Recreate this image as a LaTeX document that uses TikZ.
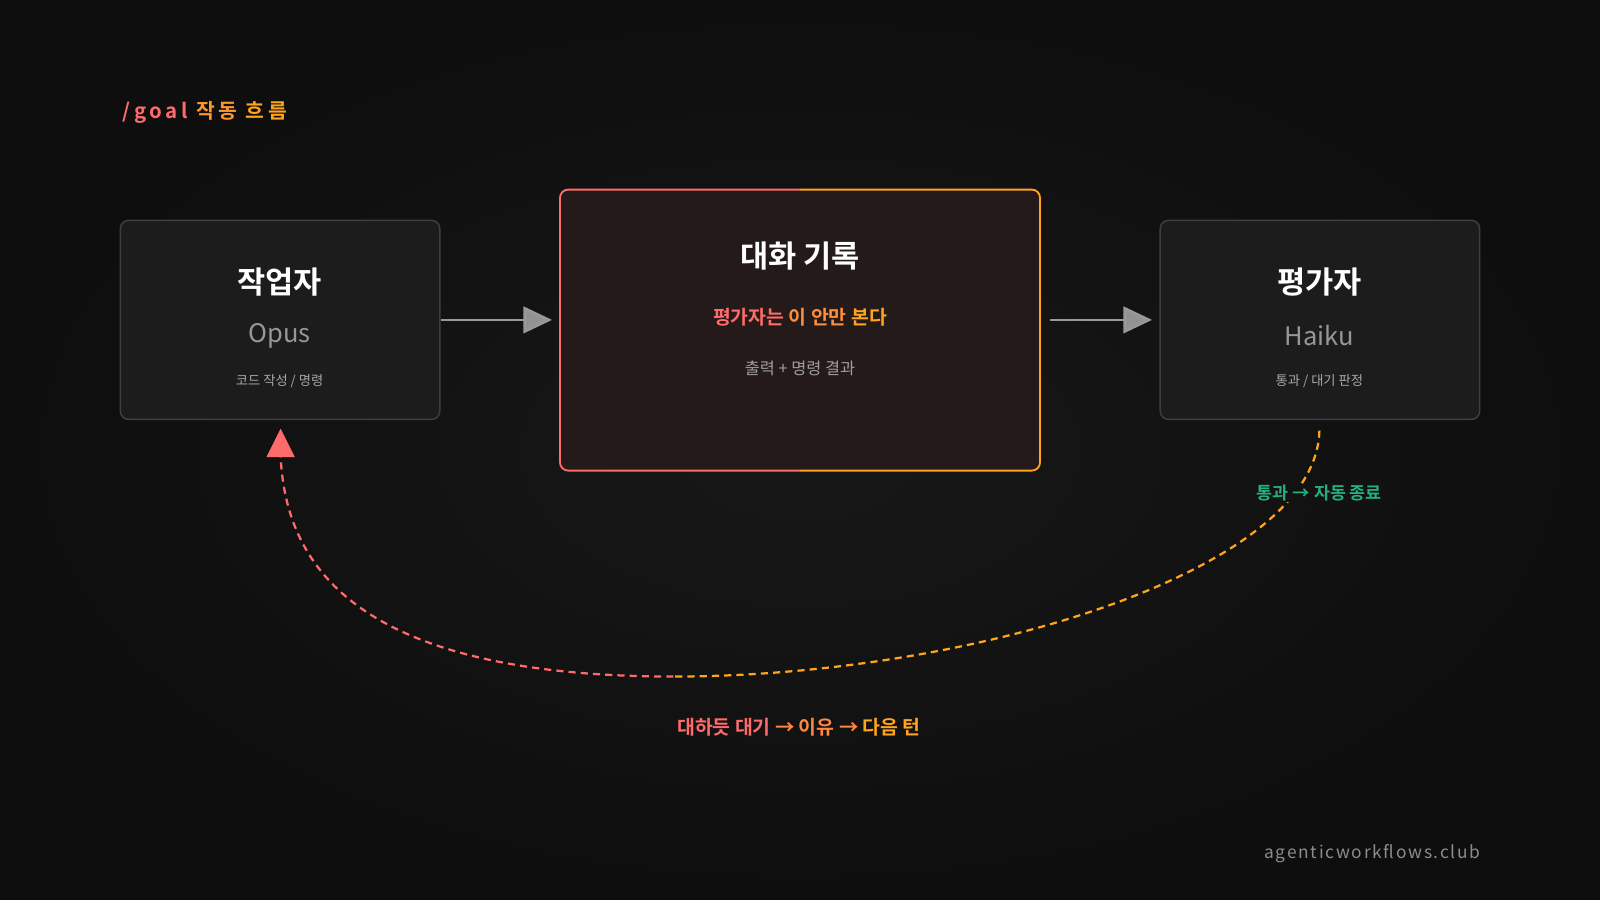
\documentclass[tikz,border=0pt]{standalone}
\usepackage{fontspec}
\setmainfont{Noto Sans CJK KR}
\newfontfamily\kb{Noto Sans CJK KR Bold}
\usetikzlibrary{arrows.meta,shadings}
\definecolor{bg}{HTML}{0E0E0E}
\definecolor{bgc}{HTML}{181818}
\definecolor{coral}{HTML}{FF6B6B}
\definecolor{orng}{HTML}{FFA41C}
\definecolor{boxf}{HTML}{1C1C1C}
\definecolor{boxd}{HTML}{3E3E3E}
\definecolor{midf}{HTML}{241A1A}
\definecolor{grn}{HTML}{22B07D}
\definecolor{gtxt}{HTML}{A8A8A8}
\tikzset{
 x=1pt,y=-1pt,
 sidebox/.style={draw=boxd,fill=boxf,rounded corners=8pt,line width=1.5pt,minimum width=313pt,minimum height=195pt},
 ttl/.style={text=white,font=\kb\fontsize{30}{34}\selectfont},
 sub/.style={text=gtxt!120,font=\fontsize{25}{28}\selectfont},
 note/.style={text=gtxt,font=\fontsize{13}{16}\selectfont},
 flow/.style={draw=gray!80,line width=2.5pt,-{Triangle[length=28pt,width=26pt,fill=gray!85]}},
}
\begin{document}
\begin{tikzpicture}
\useasboundingbox (0,0) rectangle (1568,882);
\shade[inner color=bgc,outer color=bg] (0,0) rectangle (1568,882);
\node[anchor=west,font=\kb\fontsize{20}{24}\selectfont] (title) at (117,110) {\addfontfeature{LetterSpace=18}\textcolor{coral}{/goal} \textcolor{orng!80!coral}{작동} \textcolor{orng}{흐름}};
% left box
\node[sidebox] (work) at (274.5,313.5) {};
\node[ttl] (wt) at (274,276) {작업자};
\node[sub] (ws) at (274,329) {Opus};
\node[note] (wn) at (274,374) {코드 작성 / 명령};
% middle
\node[fill=midf,rounded corners=8pt,minimum width=470pt,minimum height=275pt] (mid) at (784,323.5) {};
\begin{scope}
\clip (500,150) rectangle (784,500);
\draw[coral,line width=1.8pt,rounded corners=8pt] (mid.north west) rectangle (mid.south east);
\end{scope}
\begin{scope}
\clip (784,150) rectangle (1060,500);
\draw[orng,line width=1.8pt,rounded corners=8pt] (mid.north west) rectangle (mid.south east);
\end{scope}
\node[ttl] (mt) at (784,251) {대화 기록};
\node[font=\kb\fontsize{19}{22}\selectfont] (mh) at (784,311) {\textcolor{coral}{평가자는} \textcolor{orng!60!coral}{이 안만} \textcolor{orng}{본다}};
\node[note,font=\fontsize{16}{19}\selectfont,text=gtxt!110] (mn) at (784,361) {출력 + 명령 결과};
% right
\node[sidebox] (eval) at (1293.5,313.5) {};
\node[ttl] (et) at (1293,276) {평가자};
\node[sub] (es) at (1293,329) {Haiku};
\node[note] (en) at (1293,374) {통과 / 대기 판정};
% arrows
\coordinate (a1) at (541,313.5);
\coordinate (a2) at (1029,313.5);
\coordinate (a3) at (1129,313.5);
\draw[flow] (work.east) -- (a1);
\draw[flow] (a2) -- (a3);
% loop
\coordinate (ls) at (1293,422);
\coordinate (lm) at (660,663);
\coordinate (le) at (275,448);
\draw[orng,line width=2.2pt,dash pattern=on 7pt off 5pt] (ls) .. controls (1290,560) and (950,663) .. (lm);
\draw[coral,line width=2.2pt,dash pattern=on 7pt off 5pt] (lm) .. controls (330,663) and (280,540) .. (le);
\coordinate (tip) at (275,420);
\fill[coral] (tip) -- (289,448) -- (261,448) -- cycle;
\node[fill=bg!60!bgc,inner sep=1pt,text=grn,font=\kb\fontsize{17}{20}\selectfont] (pass) at (1293,483) {통과 → 자동 종료};
\node[font=\kb\fontsize{19}{22}\selectfont] (fail) at (783,713) {\textcolor{coral}{대하듯 대기} \textcolor{orng!50!coral}{→ 이유 →} \textcolor{orng}{다음 턴}};
\node[text=gray!90,font=\fontsize{17}{20}\selectfont] (brand) at (1345,837) {\addfontfeature{LetterSpace=10}agenticworkflows.club};
\end{tikzpicture}
\end{document}
